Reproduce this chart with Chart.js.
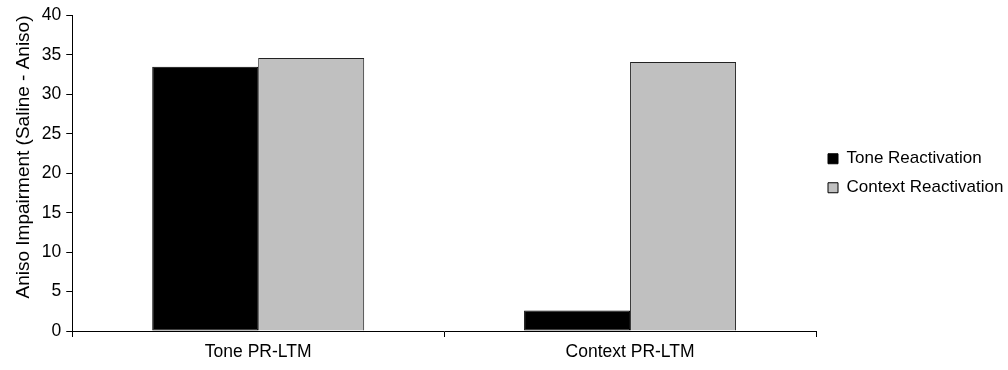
<!DOCTYPE html>
<html>
<head>
<meta charset="utf-8">
<script src="https://cdn.jsdelivr.net/npm/chart.js@4"></script>
<style>
  html, body { margin: 0; padding: 0; background: #fff; }
  #wrap { width: 1008px; height: 370px; }
</style>
</head>
<body>
<div id="wrap"><canvas id="chart" width="1008" height="370"></canvas></div>
<script>
// data
const categories = ['Tone PR-LTM', 'Context PR-LTM'];
const toneReactivation = [33.5, 2.6];
const contextReactivation = [34.6, 34.1];
const seriesNames = ['Tone Reactivation', 'Context Reactivation'];
const yTitle = 'Aniso Impairment (Saline - Aniso)';

const FONT = 'Liberation Sans, Arial, sans-serif';
const SIZE = 17.5;

// fix the legend width so the plot area ends where the reference does
const legendWidth = {
    id: 'legendWidth',
    beforeInit(chart) {
        const fit = chart.legend.fit;
        chart.legend.fit = function () {
            fit.bind(chart.legend)();
            this.width = 192;
        };
    }
};

new Chart(document.getElementById('chart'), {
    type: 'bar',
    data: {
        labels: categories,
        datasets: [
            {
                label: seriesNames[0],
                data: toneReactivation,
                backgroundColor: '#000000',
                borderColor: '#000000',
                borderWidth: 1,
                borderSkipped: false
            },
            {
                label: seriesNames[1],
                data: contextReactivation,
                backgroundColor: '#c0c0c0',
                borderColor: '#222222',
                borderWidth: 1,
                borderSkipped: 'bottom'
            }
        ]
    },
    options: {
        responsive: false,
        animation: false,
        devicePixelRatio: 1,
        layout: { padding: { top: 0, left: 12, right: 0, bottom: 2 } },
        datasets: { bar: { categoryPercentage: 0.57, barPercentage: 1.0 } },
        plugins: {
            legend: {
                position: 'right',
                align: 'center',
                fullSize: false,
                labels: {
                    color: '#000',
                    font: { family: FONT, size: 17 },
                    boxWidth: 10,
                    boxHeight: 10,
                    padding: 12,
                    generateLabels(chart) {
                        return chart.data.datasets.map((ds, i) => ({
                            text: ds.label,
                            fillStyle: ds.backgroundColor,
                            strokeStyle: '#000',
                            lineWidth: 1,
                            datasetIndex: i
                        }));
                    }
                }
            },
            tooltip: { enabled: false }
        },
        scales: {
            x: {
                grid: {
                    offset: true,
                    drawOnChartArea: false,
                    drawTicks: true,
                    tickLength: 6,
                    color: '#000'
                },
                border: { display: true, color: '#000', width: 1 },
                ticks: {
                    color: '#000',
                    font: { family: FONT, size: SIZE },
                    padding: 5
                }
            },
            y: {
                min: 0,
                max: 40,
                ticks: {
                    stepSize: 5,
                    color: '#000',
                    font: { family: FONT, size: SIZE },
                    padding: 5
                },
                grid: {
                    drawOnChartArea: false,
                    drawTicks: true,
                    tickLength: 6,
                    color: '#000'
                },
                border: { display: true, color: '#000', width: 1 },
                title: {
                    display: true,
                    text: yTitle,
                    align: 'end',
                    color: '#000',
                    font: { family: FONT, size: 19 },
                    padding: { top: 0, bottom: 2 }
                }
            }
        }
    },
    plugins: [legendWidth]
});
</script>
</body>
</html>
